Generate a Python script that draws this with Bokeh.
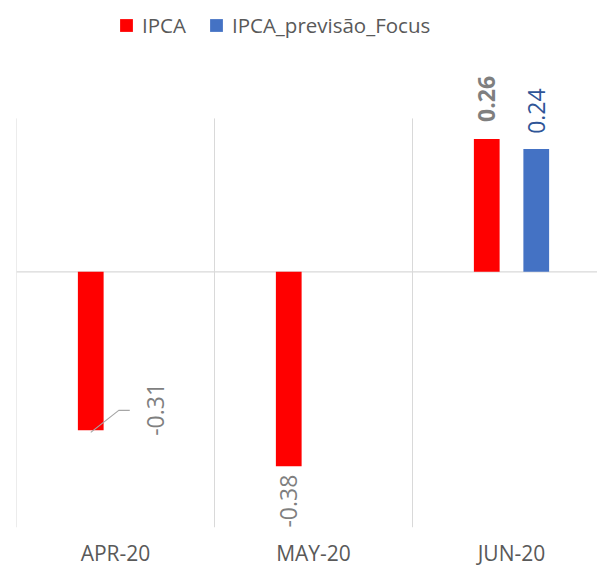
import math
from bokeh.plotting import figure
from bokeh.models import Range1d, FixedTicker, Legend, LegendItem
from bokeh.core.properties import value
from bokeh.embed import file_html
from bokeh.resources import INLINE

categories = ["APR-20", "MAY-20", "JUN-20"]
ipca = [-0.31, -0.38, 0.26]
focus = [None, None, 0.24]
series_names = ["IPCA", "IPCA_previsão_Focus"]

FONT = "Open Sans"
RED = "#FF0000"
BLUE = "#4472C4"
GRID = "#D9D9D9"
TXT = "#595959"

W, H = 597, 576
p = figure(width=W, height=H, output_backend="svg", toolbar_location=None,
           x_range=Range1d(0, 581 / 198), y_range=Range1d(-0.5, 0.515),
           min_border_left=16, min_border_right=0, min_border_top=8, min_border_bottom=49)
p.outline_line_color = None
p.xgrid.visible = False
p.ygrid.visible = False
p.yaxis.visible = False
p.background_fill_color = "white"
p.border_fill_color = "white"

px_x = 198.0          # pixels per category
px_y = 519 / 1.015    # pixels per unit

n = len(categories)
centers = [i + 0.5 for i in range(n)]
off = 0.125
bw = 0.13

# vertical category separators
bounds = list(range(n))
p.segment(x0=bounds, y0=[-0.5] * n, x1=bounds, y1=[0.3] * n, line_color=GRID, line_width=1)
# zero line
p.segment(x0=[0], y0=[0], x1=[581 / 198], y1=[0], line_color=GRID, line_width=1.2)

red_x = [c - off for c in centers]
p.vbar(x=red_x, top=ipca, bottom=0, width=bw, fill_color=RED, line_color=None)
fx = [c + off for c, v in zip(centers, focus) if v is not None]
fv = [v for v in focus if v is not None]
p.vbar(x=fx, top=fv, bottom=0, width=bw, fill_color=BLUE, line_color=None)

# legend proxies (zero-size square markers on the bars; legend draws them at box size)
leg_red = p.scatter(x=red_x, y=ipca, marker="square", size=0, fill_color=RED, line_color=None)
leg_blue = p.scatter(x=fx, y=fv, marker="square", size=0, fill_color=BLUE, line_color=None)

# data labels
lab = [f"{v:.2f}" for v in ipca]
xo = [65, 0, 0]
yo = [-21, 35, -40]
bold = ["normal", "normal", "bold"]
for x, v, t, dx, dy, fs in zip(red_x, ipca, lab, xo, yo, bold):
    p.text(x=[x], y=[v], text=[t], angle=math.pi / 2, x_offset=dx, y_offset=dy,
           text_align="center", text_baseline="middle", text_color="#7F7F7F",
           text_font=value(FONT), text_font_size="23px", text_font_style=fs)
for x, v in zip(fx, fv):
    p.text(x=[x], y=[v], text=[f"{v:.2f}"], angle=math.pi / 2, x_offset=0, y_offset=-38,
           text_align="center", text_baseline="middle", text_color="#2F5597",
           text_font=value(FONT), text_font_size="23px")

# leader line for first label
lx, lv = red_x[0], ipca[0]
p.line(x=[lx, lx + 28 / px_x, lx + 39 / px_x],
       y=[lv - 2 / px_y, lv + 20 / px_y, lv + 20 / px_y], line_color="#A6A6A6", line_width=1.2)

# x axis
p.xaxis.ticker = FixedTicker(ticks=centers)
p.xaxis.major_label_overrides = {c: t for c, t in zip(centers, categories)}
p.xaxis.axis_line_color = None
p.xaxis.major_tick_line_color = None
p.xaxis.minor_tick_line_color = None
p.xaxis.major_label_text_font = FONT
p.xaxis.major_label_text_font_size = "21px"
p.xaxis.major_label_text_color = TXT
p.xaxis.major_label_standoff = 5

legend = Legend(items=[LegendItem(label=series_names[0], renderers=[leg_red]),
                       LegendItem(label=series_names[1], renderers=[leg_blue])],
                orientation="horizontal", location=(94, 486))
legend.border_line_color = None
legend.background_fill_alpha = 0
legend.label_text_font = FONT
legend.label_text_font_size = "20.5px"
legend.label_text_color = TXT
legend.glyph_width = 32
legend.glyph_height = 32
legend.spacing = 14
legend.padding = 0
legend.label_standoff = 0
p.add_layout(legend, "center")

open("out.html", "w").write(file_html(p, INLINE))
